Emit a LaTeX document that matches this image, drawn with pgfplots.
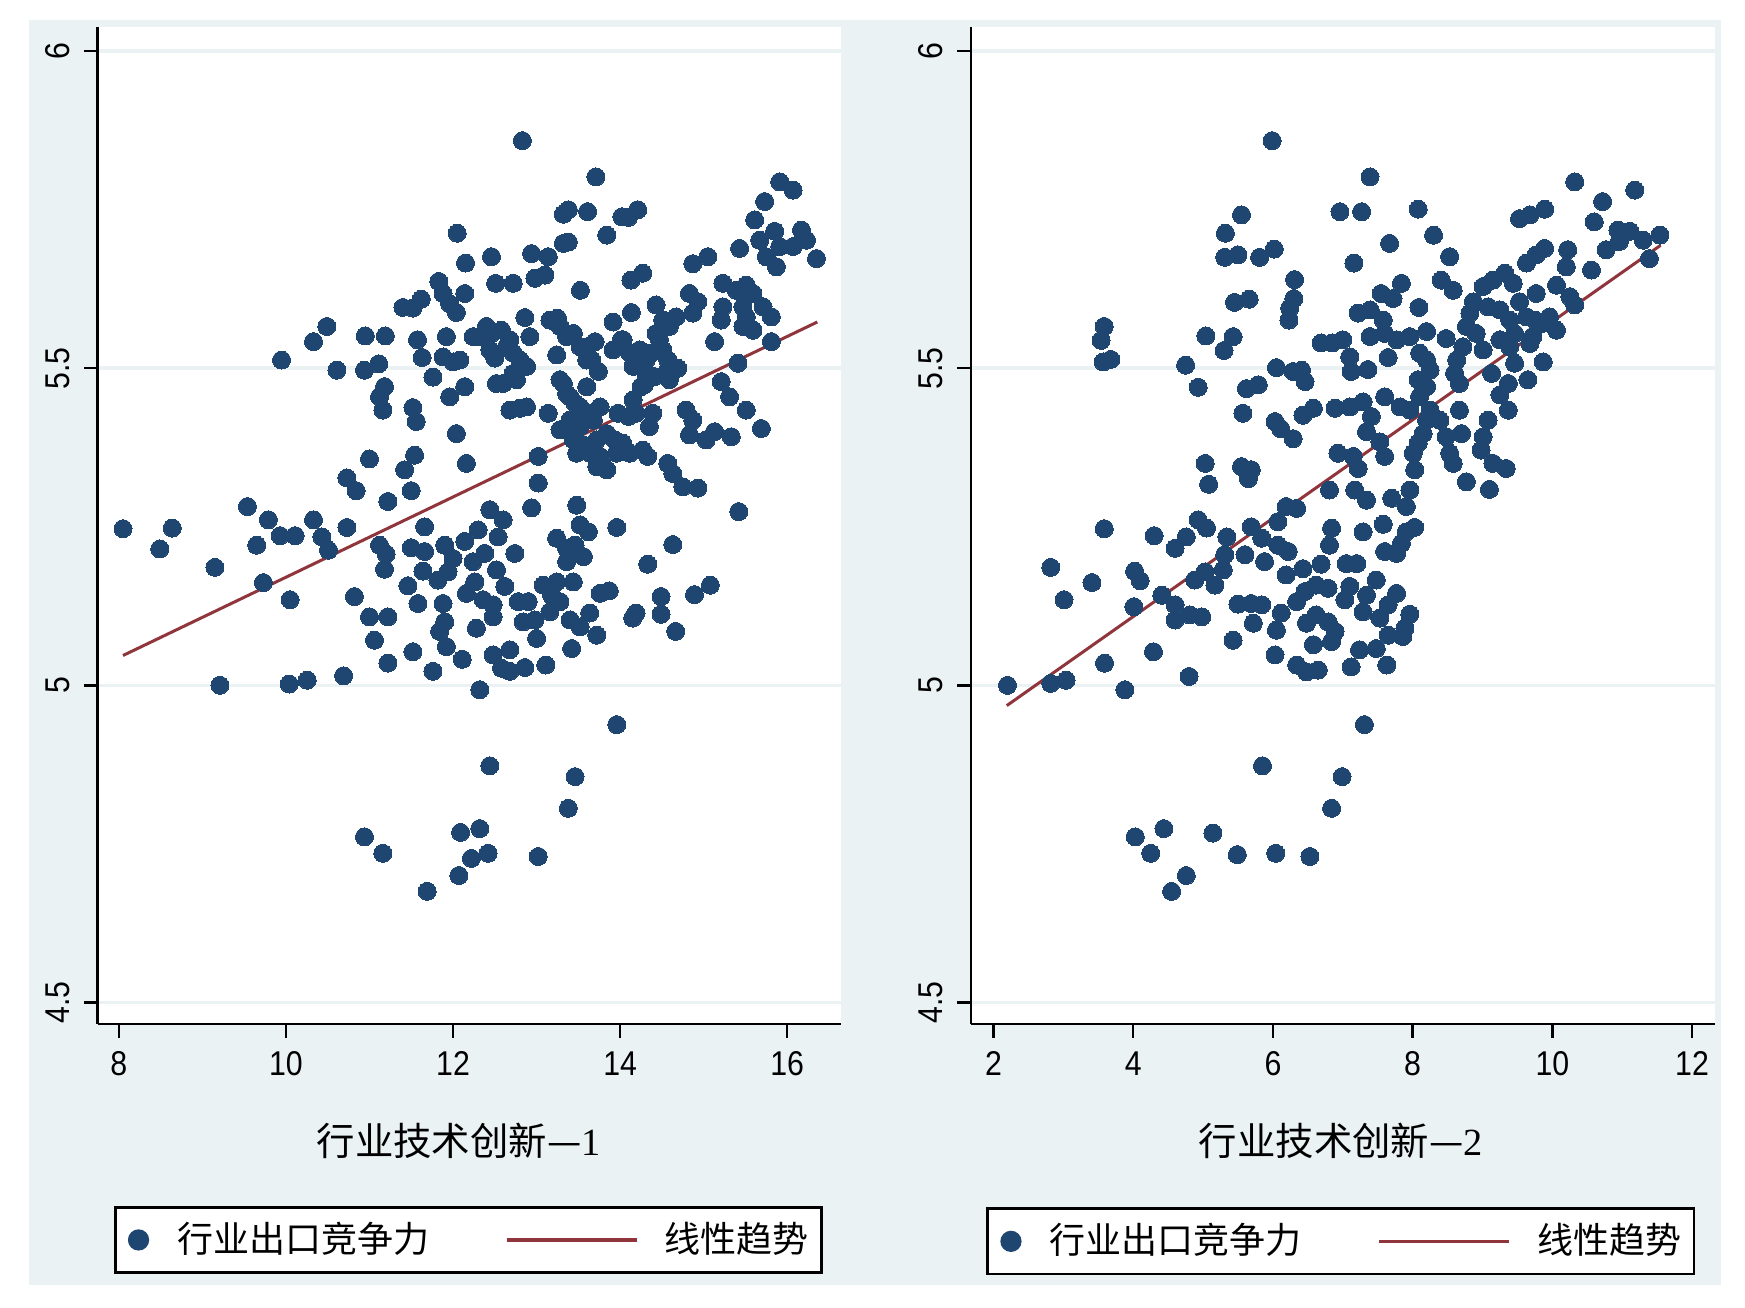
\documentclass[border=0pt]{standalone}
\usepackage{fontspec}
\usepackage{pgfplots}
\pgfplotsset{compat=1.18}
\usepackage{pgfplotstable}
\newfontfamily\cjk{Noto Sans CJK SC}
\newfontfamily\serifnum{Liberation Serif}
\newfontfamily\tickfont{Liberation Sans}[FakeStretch=0.88]
\definecolor{navyc}{RGB}{30,70,113}
\definecolor{maroonc}{RGB}{144,53,59}
\definecolor{bgc}{RGB}{234,242,243}

\pgfplotstableread{
x y
12.05 5.713
12.15 5.666
11.83 5.637
11.88 5.618
11.96 5.602
12.04 5.588
12.14 5.618
11.40 5.596
11.52 5.595
11.62 5.609
10.49 5.566
10.33 5.542
10.95 5.551
11.19 5.551
11.575 5.545
11.92 5.550
9.948 5.513
10.61 5.497
10.94 5.497
11.11 5.507
11.63 5.517
11.88 5.518
12.00 5.510
11.76 5.486
11.18 5.471
11.12 5.455
11.16 5.434
11.52 5.438
11.56 5.416
11.96 5.455
12.14 5.471
12.04 5.397
11.00 5.357
11.54 5.363
11.42 5.340
10.73 5.327
10.84 5.307
11.50 5.307
11.22 5.290
12.16 5.350
9.54 5.282
12.83 5.859
13.71 5.802
13.38 5.750
13.32 5.743
13.61 5.747
13.84 5.710
14.02 5.739
14.10 5.738
14.21 5.750
12.46 5.676
12.94 5.681
13.14 5.676
13.32 5.697
13.38 5.699
12.51 5.634
12.72 5.634
12.98 5.642
13.10 5.647
13.525 5.623
14.13 5.639
14.27 5.650
12.86 5.580
13.25 5.579
12.40 5.566
12.32 5.550
12.44 5.529
12.50 5.516
12.58 5.560
12.68 5.545
12.92 5.550
12.82 5.503
12.76 5.482
12.52 5.476
12.68 5.434
12.80 5.437
13.14 5.429
13.02 5.361
13.02 5.319
13.24 5.521
13.44 5.555
13.60 5.534
13.70 5.542
13.66 5.513
13.74 5.495
13.32 5.476
13.40 5.455
13.60 5.471
13.52 5.439
13.76 5.439
13.36 5.403
13.52 5.408
13.68 5.418
13.60 5.371
13.76 5.361
13.80 5.345
13.935 5.387
14.03 5.382
14.115 5.366
14.27 5.371
14.33 5.361
13.915 5.573
14.135 5.588
14.015 5.545
13.915 5.529
14.115 5.524
14.155 5.503
14.235 5.529
14.31 5.513
14.37 5.524
14.47 5.545
14.51 5.529
14.57 5.513
14.69 5.500
14.59 5.482
14.29 5.474
14.155 5.450
14.19 5.429
14.39 5.429
14.35 5.408
13.975 5.429
14.43 5.600
14.57 5.573
14.67 5.581
14.83 5.618
14.93 5.605
14.87 5.587
14.87 5.665
15.05 5.676
15.23 5.634
15.23 5.597
15.21 5.576
15.13 5.542
15.39 5.623
15.51 5.631
15.59 5.618
15.47 5.597
15.51 5.581
15.47 5.566
15.59 5.560
15.71 5.597
15.81 5.581
15.43 5.689
15.61 5.734
15.73 5.763
15.91 5.794
16.07 5.781
15.67 5.702
15.85 5.716
16.17 5.718
16.23 5.702
16.07 5.692
15.91 5.692
15.75 5.676
15.87 5.660
16.35 5.673
15.81 5.542
15.41 5.508
15.21 5.479
15.31 5.455
15.51 5.434
15.69 5.405
14.79 5.434
14.87 5.418
14.83 5.395
15.03 5.387
15.13 5.400
15.33 5.392
14.57 5.350
14.63 5.334
14.75 5.313
14.93 5.311
13.28 5.482
13.36 5.460
13.46 5.445
13.58 5.429
13.66 5.429
13.40 5.418
13.28 5.403
13.44 5.387
13.56 5.379
13.64 5.366
13.72 5.345
13.84 5.340
13.48 5.366
13.72 5.387
13.84 5.397
13.955 5.366
14.10 5.424
14.035 5.545
14.31 5.492
14.41 5.487
14.55 5.492
14.63 5.503
14.25 5.471
14.43 5.555
14.59 5.566
14.51 5.576
12.24 5.550
12.46 5.555
12.64 5.534
12.72 5.524
12.48 5.524
12.80 5.513
12.88 5.503
12.72 5.492
12.60 5.476
12.88 5.439
12.08 5.513
13.16 5.576
13.28 5.566
13.36 5.550
13.52 5.534
13.60 5.513
8.05 5.247
8.64 5.248
8.49 5.215
9.15 5.186
9.79 5.261
9.65 5.221
9.93 5.236
10.11 5.236
10.33 5.261
10.43 5.234
10.51 5.213
10.73 5.249
9.73 5.162
10.05 5.135
10.82 5.140
11.66 5.250
11.12 5.221
11.20 5.207
11.18 5.183
11.50 5.217
11.66 5.211
11.64 5.180
11.46 5.157
11.90 5.221
12.00 5.200
11.94 5.179
11.82 5.166
12.14 5.227
11.58 5.129
11.88 5.129
11.90 5.100
11.84 5.085
11.92 5.061
12.16 5.145
11.00 5.108
11.22 5.108
11.06 5.071
11.52 5.053
11.22 5.035
11.76 5.022
12.11 5.041
9.21 5.000
10.04 5.002
10.255 5.008
10.69 5.015
10.94 4.761
11.16 4.735
12.09 4.768
12.22 4.727
12.07 4.700
11.69 4.675
12.44 5.277
12.94 5.280
13.48 5.284
15.42 5.274
12.60 5.261
12.30 5.245
12.54 5.234
12.74 5.208
12.38 5.208
12.24 5.195
12.52 5.182
12.26 5.163
12.62 5.156
12.36 5.135
12.48 5.127
12.48 5.108
12.78 5.132
12.90 5.132
12.84 5.100
12.98 5.103
13.00 5.074
13.08 5.158
13.24 5.163
13.44 5.163
13.18 5.142
13.28 5.132
13.16 5.116
13.24 5.232
13.36 5.216
13.46 5.221
13.52 5.253
13.62 5.242
13.56 5.203
13.36 5.195
13.40 5.103
13.52 5.092
13.635 5.114
13.72 5.079
13.42 5.058
13.96 5.249
13.76 5.145
13.87 5.149
14.15 5.106
14.19 5.114
14.33 5.191
14.63 5.222
14.49 5.140
14.49 5.112
14.665 5.085
14.89 5.143
15.08 5.158
12.28 5.090
12.48 5.048
12.68 5.056
12.58 5.027
12.68 5.022
12.86 5.028
13.11 5.032
12.32 4.993
13.96 4.938
12.44 4.873
13.46 4.856
13.38 4.806
12.32 4.774
12.42 4.735
13.02 4.730
}\leftdata

\pgfplotstableread{
x y
5.989 5.859
5.55 5.742
5.32 5.713
5.31 5.675
5.50 5.679
5.81 5.675
6.02 5.688
6.31 5.640
6.30 5.610
6.24 5.595
6.23 5.576
5.45 5.604
5.66 5.609
3.585 5.566
3.54 5.544
3.57 5.510
3.68 5.514
5.04 5.551
5.43 5.550
5.30 5.528
6.69 5.540
4.75 5.505
4.93 5.470
6.05 5.501
6.29 5.495
6.41 5.497
6.46 5.479
5.62 5.468
5.79 5.474
5.57 5.429
6.03 5.416
6.11 5.405
6.29 5.389
6.43 5.426
6.58 5.437
5.03 5.350
5.08 5.317
5.55 5.345
5.69 5.340
5.65 5.326
6.19 5.282
6.34 5.279
6.85 5.540
7.39 5.802
6.96 5.747
7.27 5.747
8.08 5.751
8.30 5.710
7.67 5.697
7.16 5.666
8.53 5.676
8.41 5.639
8.58 5.623
7.84 5.634
7.55 5.618
7.72 5.610
7.22 5.587
7.39 5.592
7.58 5.576
8.09 5.596
7.00 5.545
7.39 5.550
7.60 5.555
7.77 5.545
7.96 5.550
8.20 5.558
7.10 5.518
7.12 5.495
7.36 5.498
7.65 5.517
8.10 5.524
8.20 5.513
8.25 5.497
8.08 5.482
8.20 5.471
8.48 5.547
8.77 5.566
8.82 5.587
8.87 5.605
9.01 5.629
9.15 5.639
9.32 5.650
9.44 5.634
9.08 5.597
9.25 5.592
9.39 5.576
9.53 5.605
9.63 5.581
9.75 5.576
9.87 5.571
10.06 5.560
9.96 5.581
9.77 5.618
10.06 5.631
10.25 5.613
10.32 5.600
9.63 5.666
9.77 5.679
9.89 5.689
10.22 5.687
10.20 5.660
10.56 5.655
10.77 5.687
10.94 5.718
11.11 5.716
10.96 5.700
11.30 5.702
11.39 5.673
11.54 5.710
10.60 5.731
10.72 5.763
10.32 5.794
11.18 5.781
9.53 5.736
9.68 5.742
9.89 5.751
8.72 5.534
8.63 5.513
8.60 5.492
8.67 5.476
8.91 5.555
9.01 5.529
9.25 5.545
9.46 5.555
9.39 5.534
9.68 5.539
9.72 5.550
9.46 5.508
9.87 5.510
9.13 5.492
9.37 5.476
9.25 5.458
9.65 5.482
9.37 5.434
9.08 5.418
9.01 5.392
8.98 5.371
9.15 5.350
9.34 5.342
8.77 5.321
9.10 5.309
8.67 5.434
8.70 5.397
8.48 5.392
8.53 5.366
8.58 5.350
8.39 5.418
8.25 5.434
8.20 5.418
8.15 5.397
8.08 5.382
8.01 5.366
8.03 5.340
7.96 5.308
7.91 5.282
7.60 5.455
7.82 5.439
7.96 5.434
8.10 5.455
7.29 5.447
7.10 5.439
6.89 5.437
7.41 5.424
7.34 5.400
7.53 5.384
7.60 5.361
6.93 5.366
7.15 5.361
7.22 5.342
7.17 5.308
7.34 5.292
7.70 5.295
6.81 5.308
3.586 5.247
2.82 5.186
3.41 5.162
3.01 5.135
2.20 5.000
2.82 5.003
3.04 5.008
3.59 5.035
3.88 4.993
4.29 5.053
4.80 5.014
4.30 5.236
4.02 5.180
4.10 5.165
4.01 5.124
4.41 5.142
4.60 5.216
4.76 5.234
4.93 5.261
5.05 5.248
4.60 5.127
4.60 5.103
4.81 5.111
4.98 5.108
4.88 5.166
5.03 5.179
5.17 5.158
5.29 5.182
5.31 5.206
5.34 5.234
5.60 5.206
5.69 5.250
5.84 5.232
5.88 5.195
6.07 5.221
6.22 5.211
6.07 5.258
6.19 5.174
6.43 5.184
6.69 5.191
6.84 5.248
6.81 5.221
5.50 5.128
5.69 5.129
5.84 5.127
5.72 5.098
5.43 5.071
6.12 5.114
6.05 5.087
6.03 5.048
6.34 5.132
6.46 5.148
6.62 5.158
6.79 5.153
6.48 5.098
6.62 5.111
6.79 5.100
6.58 5.064
6.84 5.069
6.34 5.032
6.48 5.021
6.65 5.024
5.85 4.873
6.84 4.806
4.03 4.761
4.44 4.774
4.25 4.735
5.14 4.767
5.49 4.733
6.04 4.735
6.53 4.730
4.76 4.700
4.55 4.675
7.29 5.242
7.58 5.254
7.91 5.242
8.03 5.249
7.60 5.211
7.77 5.208
7.84 5.224
7.05 5.192
7.20 5.192
7.10 5.156
7.03 5.135
7.34 5.142
7.48 5.166
7.77 5.145
7.65 5.127
7.29 5.116
7.53 5.106
7.96 5.112
7.89 5.090
7.65 5.079
7.86 5.077
6.89 5.085
7.24 5.056
7.48 5.058
7.12 5.029
7.63 5.032
7.31 4.938
6.99 4.856
}\rightdata

\pgfplotsset{
  statastyle/.style={
    scale only axis,
    height=249.25pt,
    axis background/.style={fill=white},
    axis x line*=bottom,
    axis y line*=left,
    axis line style={black, line width=0.6pt, -},
    tick style={black, line width=0.6pt},
    tick align=outside,
    major tick length=3.4pt,
    ymin=4.4658, ymax=6.0383,
    ytick={4.5,5,5.5,6},
    ymajorgrids,
    grid style={color=bgc, line width=0.9pt},
    /pgf/number format/assume math mode=true,
    ticklabel style={font=\tickfont\fontsize{8.6}{10}\selectfont, text=black},
    yticklabel style={rotate=90, anchor=south},
    xlabel style={font=\cjk\fontsize{9.6}{11}\selectfont, anchor=center},
    legend columns=2,
    legend style={anchor=center, draw=black, line width=0.7pt, fill=white,
      inner xsep=3.2pt, inner ysep=3.6pt,
      font=\cjk\fontsize{9.0}{10}\selectfont,
      nodes={inner sep=0pt},
      /tikz/column 1/.style={column sep=7pt},
      /tikz/column 2/.style={column sep=19pt},
      /tikz/column 3/.style={column sep=6.5pt}},
    legend cell align=left,
  }
}

\begin{document}
\begin{tikzpicture}[x=0.25pt,y=0.25pt]
\fill[white] (0,0) rectangle (1745,1307);
\fill[bgc] (29,22) rectangle (1721,1287);

\begin{axis}[statastyle,
  at={(24.4pt,70.75pt)}, anchor=south west,
  width=185.75pt,
  xmin=7.746, xmax=16.639,
  xtick={8,10,12,14,16},
  xlabel={行业技术创新—{\serifnum 1}},
  xlabel style={at={(axis description cs:0.486,-0.1174)}},
  legend style={at={(0.499,-0.2166)}},
]
\addplot[only marks, mark=*, mark size=2.25pt,
  mark options={draw=navyc, fill=navyc, line width=0pt},
  legend image code/.code={\fill[navyc] (0pt,0pt) circle (2.3pt);}]
  table[x=x, y=y] {\leftdata};
\addlegendentry{行业出口竞争力}
\addplot[maroonc, line width=0.75pt,
  legend image code/.code={\draw[maroonc, line width=0.9pt] (0pt,0pt) -- (32.5pt,0pt);}]
  coordinates {(8.05,5.047) (16.36,5.573)};
\addlegendentry{线性趋势}
\end{axis}

\begin{axis}[statastyle,
  at={(242.75pt,70.75pt)}, anchor=south west,
  width=186pt,
  xmin=1.678, xmax=12.329,
  xtick={2,4,6,8,10,12},
  xlabel={行业技术创新—{\serifnum 2}},
  xlabel style={at={(axis description cs:0.497,-0.1174)}},
  legend style={at={(0.497,-0.218)}},
]
\addplot[only marks, mark=*, mark size=2.25pt,
  mark options={draw=navyc, fill=navyc, line width=0pt},
  legend image code/.code={\fill[navyc] (0pt,0pt) circle (2.3pt);}]
  table[x=x, y=y] {\rightdata};
\addlegendentry{行业出口竞争力}
\addplot[maroonc, line width=0.75pt,
  legend image code/.code={\draw[maroonc, line width=0.9pt] (0pt,0pt) -- (32.5pt,0pt);}]
  coordinates {(2.19,4.968) (11.55,5.694)};
\addlegendentry{线性趋势}
\end{axis}
\end{tikzpicture}
\end{document}
